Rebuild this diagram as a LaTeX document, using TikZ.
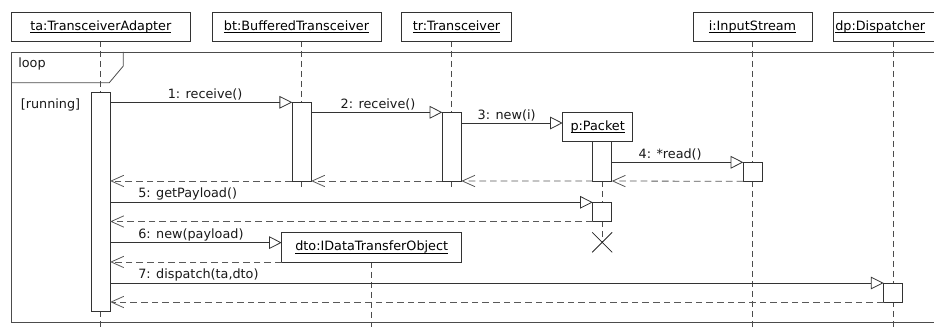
\documentclass[tikz,border=0pt]{standalone}
\usepackage{fontspec}
\setmainfont{DejaVu Sans}
\usetikzlibrary{arrows.meta}

\pgfdeclarelayer{back}
\pgfsetlayers{back,main}

\newsavebox\namebox
\newcommand{\objname}[1]{\sbox\namebox{#1}\rlap{\rule[-1.8pt]{\wd\namebox}{0.5pt}}\usebox\namebox}

\tikzset{
  obj/.style={draw=black!80, fill=white, line width=0.6pt, inner sep=0pt, outer sep=0pt, minimum height=21.75pt},
  act/.style={draw=black!80, fill=white, line width=0.6pt, minimum width=14.25pt, inner sep=0pt, outer sep=0pt},
  lifeline/.style={draw=black!70, line width=0.6pt, dash pattern=on 4.5pt off 3pt},
  msg/.style={draw=black!80, line width=0.6pt, -{Triangle[open,length=9.5pt,width=9.5pt]}},
  ret/.style={draw=black!65, line width=0.6pt, dash pattern=on 5pt off 3pt, -{Straight Barb[length=9.5pt,width=8.5pt]}},
  lbl/.style={inner sep=1pt, text=black!90},
}

\begin{document}
\begin{tikzpicture}[x=0.75pt, y=-0.75pt, font=\fontsize{9.6}{11.5}\selectfont]
\useasboundingbox (0,0) rectangle (934,327);
\clip (0,0) rectangle (934,327);

% loop frame
\draw[black!70, line width=0.6pt] (11,52) rectangle (950,322.3);
\draw[black!70, line width=0.6pt] (11,82.7) -- (109.3,82.7) -- (123.3,66) -- (123.3,52);
\node[lbl] (loop) at (32,64) {loop};
\node[lbl] (guard) at (50.5,105) {[running]};

% objects
\node[obj, minimum width=134.8pt] (ta) at (100.85,26.5) {\objname{ta:TransceiverAdapter}};
\node[obj, minimum width=126.75pt] (bt) at (296.5,26.5) {\objname{bt:BufferedTransceiver}};
\node[obj, minimum width=82.2pt] (tr) at (456.5,26.5) {\objname{tr:Transceiver}};
\node[obj, minimum width=89.25pt] (i) at (752.5,26.5) {\objname{i:InputStream}};
\node[obj, anchor=west, text width=88.5pt, inner xsep=1.5pt, align=left] (dp) at (833.3,26.5) {\objname{dp:Dispatcher}};
\node[obj, minimum width=52.5pt, minimum height=21.45pt] (p) at (597.7,127) {\objname{p:Packet}};
\node[obj, minimum width=135pt, minimum height=22pt] (dto) at (371.7,247.3) {\objname{dto:IDataTransferObject}};

% activations
\node[act, minimum height=164.8pt] (ata) at (100.65,201.85) {};
\node[act, minimum height=59pt] (abt) at (301.65,141.65) {};
\node[act, minimum height=51.5pt] (atr) at (451.8,146.65) {};
\node[act, minimum height=29.8pt] (ap1) at (602.2,161.15) {};
\node[act, minimum height=14.25pt] (ai) at (752.8,171.8) {};
\node[act, minimum height=14.4pt] (ap2) at (602.2,211.9) {};
\node[act, minimum height=14.25pt] (adp) at (893,292.5) {};

\coordinate (bottom) at (0,330);
\coordinate (stop) at (0,188.5);
\coordinate (pend) at (ap2.south |- 0,242.3);
\coordinate (pin) at ([yshift=3pt]p.west);
\coordinate (dtoin) at ([yshift=3.5pt]dto.west);

% lifelines
\begin{pgfonlayer}{back}
  \draw[lifeline] (ata.north |- ta.south) -- (ata.north |- bottom);
  \draw[lifeline] (abt.north |- bt.south) -- (abt.north |- stop);
  \draw[lifeline] (atr.north |- tr.south) -- (atr.north |- stop);
  \draw[lifeline] (pend |- p.south) -- (pend);
  \draw[lifeline] (ai.north |- i.south) -- (ai.north |- bottom);
  \draw[lifeline] (dto.south) -- (dto.south |- bottom);
  \draw[lifeline] (adp.north |- dp.south) -- (adp.north |- bottom);
\end{pgfonlayer}

% destroy p
\draw[black!85, line width=0.6pt] (pend) +(-10,-10) -- +(10,10) (pend) +(-10,10) -- +(10,-10);

% messages
\draw[msg] (ata.east |- abt.north) -- node[lbl, above, xshift=3pt] {1: receive()} (abt.north west);
\draw[msg] (abt.east |- atr.north) -- node[lbl, above, xshift=1pt] {2: receive()} (atr.north west);
\draw[msg] (atr.east |- pin) -- node[lbl, above, xshift=-4pt] {3: new(i)} (pin);
\draw[msg] (ap1.east |- ai.north) -- node[lbl, above, xshift=-5.5pt] {4: *read()} (ai.north west);
\draw[ret] (ai.south west) -- (ap1.south east);
\draw[ret] (ap1.south west) -- (atr.south east);
\draw[ret] (atr.south west) -- (abt.south east);
\draw[ret] (abt.south west) -- (ata.east |- abt.south);
\draw[msg] (ata.east |- ap2.north) -- node[lbl, pos=0, anchor=south west, xshift=19.8pt] {5: getPayload()} (ap2.north west);
\draw[ret] (ap2.south west) -- (ata.east |- ap2.south);
\draw[msg] (ata.east |- dtoin) -- node[lbl, pos=0, anchor=south west, xshift=19.8pt] {6: new(payload)} (dtoin);
\draw[ret] (dto.south west) -- (ata.east |- dto.south);
\draw[msg] (ata.east |- adp.north) -- node[lbl, pos=0, anchor=south west, xshift=19.8pt] {7: dispatch(ta,dto)} (adp.north west);
\draw[ret] (adp.south west) -- (ata.east |- adp.south);
\end{tikzpicture}
\end{document}
